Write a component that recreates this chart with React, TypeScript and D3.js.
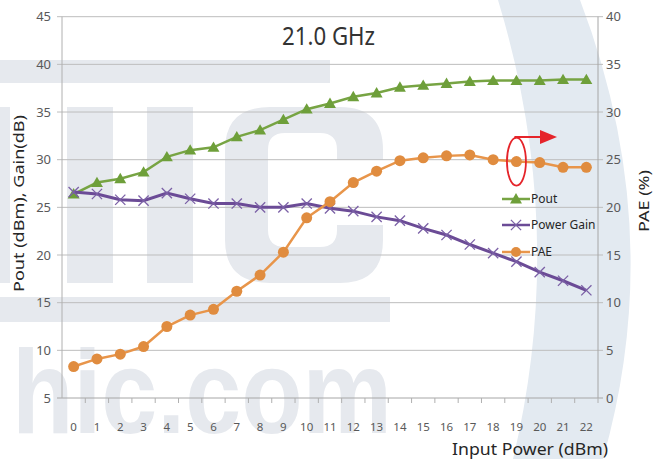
import React from "react";
import * as d3 from "d3";

// Input power categories (dBm)
const inputPower = [0, 1, 2, 3, 4, 5, 6, 7, 8, 9, 10, 11, 12, 13, 14, 15, 16, 17, 18, 19, 20, 21, 22];

// Left axis series (dBm / dB)
const pout = [26.4, 27.6, 28.0, 28.7, 30.3, 31.0, 31.3, 32.4, 33.1, 34.2, 35.3, 35.9, 36.6, 37.0, 37.6, 37.8, 38.0, 38.2, 38.3, 38.3, 38.3, 38.4, 38.4];
const powerGain = [26.6, 26.4, 25.8, 25.7, 26.5, 25.9, 25.4, 25.4, 25.0, 25.0, 25.4, 24.9, 24.6, 24.0, 23.6, 22.8, 22.1, 21.1, 20.2, 19.3, 18.2, 17.3, 16.3];

// Right axis series (%)
const pae = [3.3, 4.1, 4.6, 5.4, 7.5, 8.7, 9.3, 11.2, 12.9, 15.3, 18.9, 20.6, 22.6, 23.8, 24.9, 25.2, 25.4, 25.5, 25.0, 24.8, 24.7, 24.2, 24.2];

const leftTicks = [5, 10, 15, 20, 25, 30, 35, 40, 45];
const rightTicks = [0, 5, 10, 15, 20, 25, 30, 35, 40];

const legendItems = ["Pout", "Power Gain", "PAE"];

const GREEN = "#77a443";
const PURPLE = "#6b4b96";
const ORANGE = "#e8954a";
const WM = "#e6e9ee";

export default function App() {
  const width = 653;
  const height = 459;
  const plot = { left: 62, right: 598, top: 16.7, bottom: 398 };

  const x = d3.scaleBand<number>().domain(inputPower).range([plot.left, plot.right]);
  const yL = d3.scaleLinear().domain([5, 45]).range([plot.bottom, plot.top]);
  const yR = d3.scaleLinear().domain([0, 40]).range([plot.bottom, plot.top]);
  const cx = (d: number) => (x(d) as number) + x.bandwidth() / 2;

  const lineL = d3
    .line<number>()
    .x((_, i) => cx(inputPower[i]))
    .y((d) => yL(d));
  const lineR = d3
    .line<number>()
    .x((_, i) => cx(inputPower[i]))
    .y((d) => yR(d));

  const tri = d3.symbol().type(d3.symbolTriangle).size(62)() as string;
  const cross = d3.symbol().type(d3.symbolX).size(70)() as string;
  const font = "'Noto Sans', 'Open Sans', sans-serif";

  // highlighted PAE point
  const hi = 19;
  const hx = cx(inputPower[hi]);
  const hy = yR(pae[hi]);

  const legendX = 502;
  const legendY = [199, 225, 252];

  return (
    <svg
      width={width}
      height={height}
      style={{ position: "absolute", left: 0, top: 0, background: "#fff" }}
      fontFamily={font}
    >
      <defs>
        <clipPath id="rclip">
          <rect x={0} y={0} width={622} height={height} />
        </clipPath>
      </defs>

      {/* watermark */}
      <g>
        <path d="M498,0 Q568,230 513,459 L603,459 Q668,230 580,0 Z" fill="#e3eaf1" />
        <rect x={0} y={60} width={330} height={23} fill={WM} />
        <rect x={0} y={297} width={390} height={25} fill={WM} />
        <rect x={0} y={107} width={10} height={176} fill={WM} />
        <rect x={67} y={107} width={46} height={176} fill={WM} />
        <rect x={147} y={107} width={46} height={176} fill={WM} />
        <path
          d="M270,107 H340 Q383,107 383,150 V160 H337 V150 Q337,133 320,133 H285 Q268,133 268,150 V230 Q268,247 285,247 H320 Q337,247 337,230 V225 H383 V240 Q383,283 340,283 H270 Q225,283 225,240 V150 Q225,107 270,107 Z"
          fill={WM}
        />
        <text
          x={12}
          y={433}
          fontSize={118}
          fontWeight={700}
          fontFamily="'Liberation Sans', Arial, sans-serif"
          fill={WM}
          textLength={380}
          lengthAdjust="spacingAndGlyphs"
        >
          hic.com
        </text>
      </g>

      {/* gridlines */}
      {leftTicks.map((t) => (
        <line
          key={"g" + t}
          x1={plot.left - 5}
          x2={plot.right + 5}
          y1={yL(t)}
          y2={yL(t)}
          stroke={t === 5 ? "#a6a6a6" : "#bdbdbd"}
          strokeWidth={1}
        />
      ))}

      {/* axes */}
      <line x1={plot.left} x2={plot.left} y1={plot.top} y2={plot.bottom} stroke="#b0b0b0" />
      <line x1={plot.right} x2={plot.right} y1={plot.top} y2={plot.bottom} stroke="#a6a6a6" />
      {inputPower.map((d) => (
        <line
          key={"xt" + d}
          x1={(x(d) as number) + x.bandwidth()}
          x2={(x(d) as number) + x.bandwidth()}
          y1={plot.bottom}
          y2={plot.bottom + 5}
          stroke="#b0b0b0"
        />
      ))}

      {/* tick labels */}
      {leftTicks.map((t) => (
        <text key={"lt" + t} x={51} y={yL(t)} dy="0.35em" textAnchor="end" fontSize={13} fill="#595959">
          {t}
        </text>
      ))}
      <g clipPath="url(#rclip)">
        {rightTicks.map((t) => (
          <text key={"rt" + t} x={606} y={yR(t)} dy="0.35em" fontSize={13} fill="#595959">
            {t}
          </text>
        ))}
      </g>
      {inputPower.map((d) => (
        <text key={"xl" + d} x={cx(d)} y={427} dy="0.35em" textAnchor="middle" fontSize={11.5} fill="#595959">
          {d}
        </text>
      ))}

      {/* titles */}
      <text x={282} y={45} fontSize={26} fill="#333" textLength={93} lengthAdjust="spacingAndGlyphs">
        21.0 GHz
      </text>
      <text
        transform="translate(24,203.5) rotate(-90)"
        textAnchor="middle"
        fontSize={15}
        fill="#262626"
        textLength={177}
        lengthAdjust="spacingAndGlyphs"
      >
        Pout (dBm), Gain(dB)
      </text>
      <text
        transform="translate(649,201) rotate(-90)"
        textAnchor="middle"
        fontSize={15}
        fill="#262626"
        textLength={62}
        lengthAdjust="spacingAndGlyphs"
      >
        PAE (%)
      </text>
      <text x={452} y={455} fontSize={16} fill="#262626" textLength={156} lengthAdjust="spacingAndGlyphs">
        Input Power (dBm)
      </text>

      {/* series */}
      <path d={lineL(pout) as string} fill="none" stroke={GREEN} strokeWidth={2.5} />
      {pout.map((v, i) => (
        <path key={"p" + i} d={tri} transform={`translate(${cx(inputPower[i])},${yL(v) + 1})`} fill="#6e9f3a" />
      ))}

      <path d={lineL(powerGain) as string} fill="none" stroke={PURPLE} strokeWidth={3} />
      {powerGain.map((v, i) => (
        <path
          key={"g" + i}
          d={cross}
          transform={`translate(${cx(inputPower[i])},${yL(v)})`}
          fill="none"
          stroke="#7b60a6"
          strokeWidth={1.3}
        />
      ))}

      <path d={lineR(pae) as string} fill="none" stroke={ORANGE} strokeWidth={2.5} />
      {pae.map((v, i) => (
        <circle key={"e" + i} cx={cx(inputPower[i])} cy={yR(v)} r={5.5} fill="#e08c3f" />
      ))}

      {/* legend */}
      {legendItems.map((name, i) => {
        const ly = legendY[i];
        const color = i === 0 ? GREEN : i === 1 ? PURPLE : ORANGE;
        return (
          <g key={name}>
            <line x1={legendX} x2={legendX + 28} y1={ly} y2={ly} stroke={color} strokeWidth={2.5} />
            {i === 0 && <path d={tri} transform={`translate(${legendX + 14},${ly + 1})`} fill="#6e9f3a" />}
            {i === 1 && (
              <path d={cross} transform={`translate(${legendX + 14},${ly})`} fill="none" stroke="#7b60a6" strokeWidth={1.3} />
            )}
            {i === 2 && <circle cx={legendX + 14} cy={ly} r={5} fill="#e08c3f" />}
            <text x={legendX + 29} y={ly} dy="0.35em" fontSize={12} fill="#262626">
              {name}
            </text>
          </g>
        );
      })}

      {/* red highlight */}
      <ellipse cx={hx} cy={hy} rx={9.5} ry={24} fill="none" stroke="#e5242a" strokeWidth={1.8} />
      <path d={`M${hx - 1},${hy - 23} V137 H543`} fill="none" stroke="#e5242a" strokeWidth={2} />
      <path d="M540,130 L557,137 L540,144 Z" fill="#e5242a" />
    </svg>
  );
}
